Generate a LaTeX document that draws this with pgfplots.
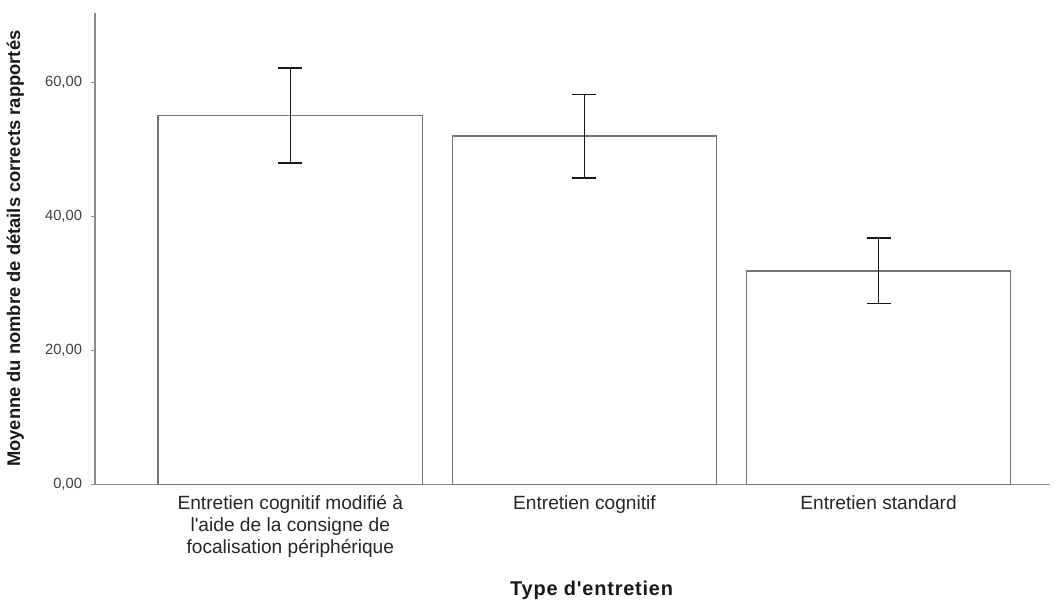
\documentclass[border=0pt]{standalone}
\usepackage{pgfplots}
\pgfplotsset{compat=1.18}
\usepackage{fontspec}
\setmainfont{Liberation Sans}[Ligatures=TeXOff]
\begin{document}
\begin{tikzpicture}
\begin{axis}[
  scale only axis,
  width=479pt, height=236.5pt,
  xmin=-0.664, xmax=2.583,
  ymin=0, ymax=70.4,
  axis lines*=left,
  axis line style={black!45, line width=0.8pt},
  xtick={0,1,2},
  xticklabels={{Entretien cognitif modifié à\\l'aide de la consigne de\\focalisation périphérique},{Entretien cognitif},{Entretien standard}},
  x tick style={draw=none},
  xticklabel style={align=center, font=\fontsize{9.6}{11}\selectfont, text=black!85, yshift=0pt},
  ytick={0,20,40,60},
  tick align=outside,
  major tick length=2pt,
  y tick style={black!45, line width=0.5pt},
  yticklabel style={font=\fontsize{7.4}{9}\selectfont, text=black!75, xshift=-1pt},
  /pgf/number format/.cd, use comma, fixed, fixed zerofill, precision=2, assume math mode=true,
  /pgfplots/.cd,
  ylabel={Moyenne du nombre de détails corrects rapportés},
  ylabel style={at={(axis description cs:-0.0835,0.5)}, anchor=center, font=\bfseries\fontsize{9.2}{11}\selectfont, text=black!90},
  xlabel={\addfontfeatures{LetterSpace=4}Type d'entretien},
  xlabel style={at={(axis description cs:0.52,-0.224)}, anchor=center, font=\bfseries\fontsize{10}{12}\selectfont, text=black!90},
  clip=false,
]
\addplot[ybar, bar width=0.898, fill=white, draw=black!55, line width=0.8pt,
  error bars/.cd, y dir=both, y explicit,
  error bar style={black!90, line width=0.75pt},
  error mark options={black!90, line width=0.75pt, mark size=6pt, rotate=90}]
  coordinates {
    (0,55.1) +- (0,7.1)
    (1,52.0) +- (0,6.25)
    (2,31.9) +- (0,4.9)
  };
\coordinate (sw) at (rel axis cs:0,0);
\end{axis}
\path ([xshift=-46pt,yshift=-59.5pt]sw) rectangle ++(529pt,302.5pt);
\end{tikzpicture}
\end{document}
